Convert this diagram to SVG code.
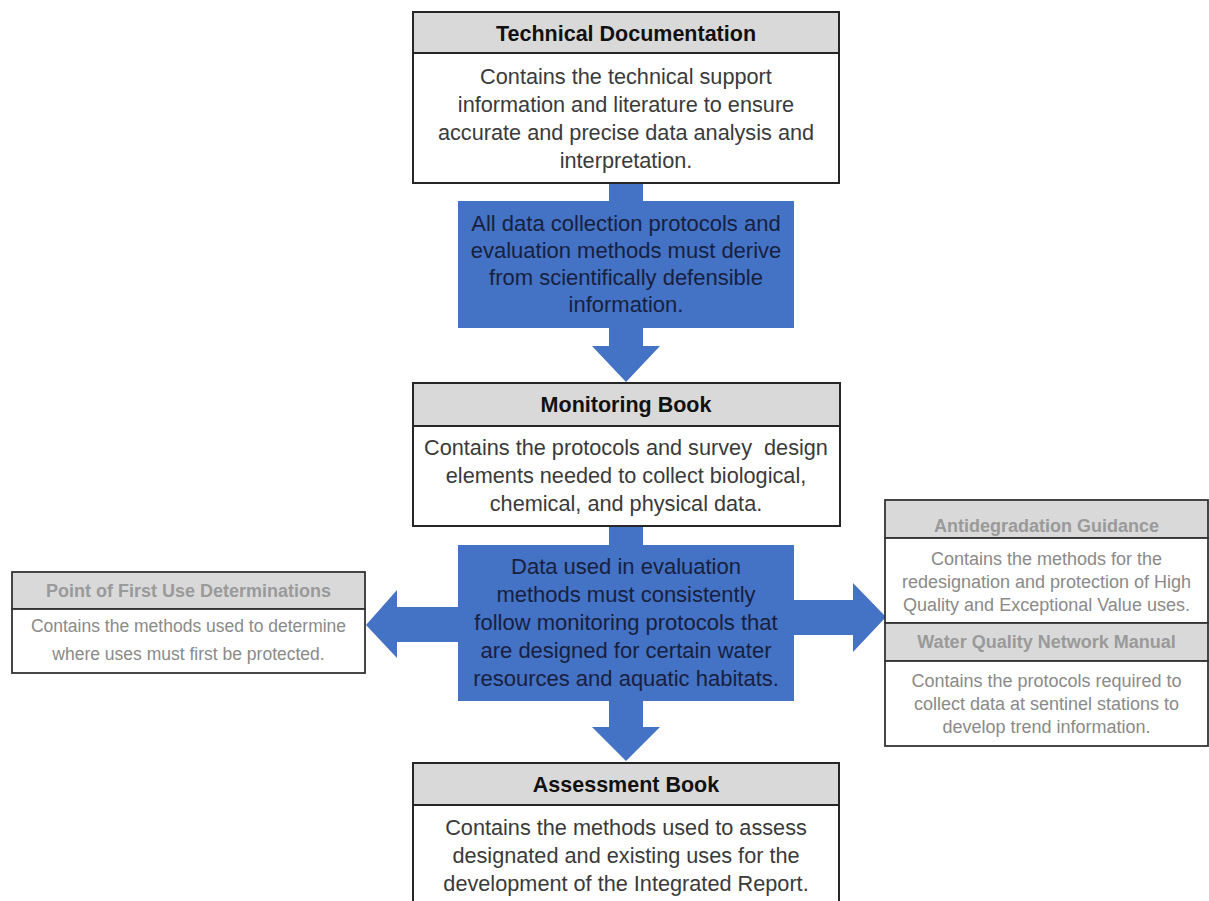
<svg xmlns="http://www.w3.org/2000/svg" width="1209" height="901" viewBox="0 0 1209 901">
<style>
.box{fill:#ffffff;stroke:#262626;stroke-width:2}
.hdr{fill:#d9d9d9;stroke:#262626;stroke-width:2}
.sbox{fill:#ffffff;stroke:#333333;stroke-width:1.8}
.shdr{fill:#d9d9d9;stroke:#333333;stroke-width:1.8}
.blue{fill:#4472c4}
.h{font-family:"Liberation Sans",Arial,sans-serif;font-weight:bold;font-size:21.5px;fill:#111111;text-anchor:middle}
.b{font-family:"Liberation Sans",Arial,sans-serif;font-size:21.7px;fill:#3a3a3a;text-anchor:middle}
.bt{font-family:"Liberation Sans",Arial,sans-serif;font-size:22px;fill:#17213f;text-anchor:middle}
.sh{font-family:"Liberation Sans",Arial,sans-serif;font-weight:bold;font-size:18px;fill:#9a9a9a;text-anchor:middle}
.sb{font-family:"Liberation Sans",Arial,sans-serif;font-size:18px;fill:#8a8a8a;text-anchor:middle}
</style>
<rect width="1209" height="901" fill="#ffffff"/>
<g id="connectors">
<polygon class="blue" points="609,183 643,183 643,346 660,346 626,382 592,346 609,346"/>
<polygon class="blue" points="609,526 643,526 643,727 660,727 626,761 592,727 609,727"/>
<polygon class="blue" points="458,607 397,607 397,590 366,625 397,658 397,642 458,642"/>
<polygon class="blue" points="794,600 853,600 853,583 886,617 853,652 853,635 794,635"/>
</g>
<g id="technical-documentation">
<rect class="hdr" x="413" y="12" width="426" height="41"/>
<rect class="box" x="413" y="53" width="426" height="130"/>
<text class="h" x="626" y="41">Technical Documentation</text>
<text class="b" x="626" y="84">Contains the technical support</text>
<text class="b" x="626" y="112">information and literature to ensure</text>
<text class="b" x="626" y="140">accurate and precise data analysis and</text>
<text class="b" x="626" y="168">interpretation.</text>
</g>
<g id="principle-1">
<rect class="blue" x="458" y="201" width="336" height="127"/>
<text class="bt" x="626" y="231">All data collection protocols and</text>
<text class="bt" x="626" y="258">evaluation methods must derive</text>
<text class="bt" x="626" y="285">from scientifically defensible</text>
<text class="bt" x="626" y="312">information.</text>
</g>
<g id="monitoring-book">
<rect class="hdr" x="413" y="383" width="427" height="43"/>
<rect class="box" x="413" y="426" width="427" height="100"/>
<text class="h" x="626" y="412">Monitoring Book</text>
<text class="b" x="626" y="455" xml:space="preserve">Contains the protocols and survey  design</text>
<text class="b" x="626" y="483">elements needed to collect biological,</text>
<text class="b" x="626" y="511">chemical, and physical data.</text>
</g>
<g id="principle-2">
<rect class="blue" x="458" y="545" width="336" height="156"/>
<text class="bt" x="626" y="574">Data used in evaluation</text>
<text class="bt" x="626" y="602">methods must consistently</text>
<text class="bt" x="626" y="630">follow monitoring protocols that</text>
<text class="bt" x="626" y="658">are designed for certain water</text>
<text class="bt" x="626" y="686">resources and aquatic habitats.</text>
</g>
<g id="point-of-first-use">
<rect class="shdr" x="12" y="572" width="353" height="37"/>
<rect class="sbox" x="12" y="609" width="353" height="64"/>
<text class="sh" x="188.5" y="597">Point of First Use Determinations</text>
<text class="sb" x="188.5" y="632" style="font-size:17.5px">Contains the methods used to determine</text>
<text class="sb" x="188.5" y="660" style="font-size:17.5px">where uses must first be protected.</text>
</g>
<g id="antidegradation-guidance">
<rect class="shdr" x="885" y="500" width="323" height="38"/>
<rect class="sbox" x="885" y="538" width="323" height="85"/>
<text class="sh" x="1046.5" y="532">Antidegradation Guidance</text>
<text class="sb" x="1046.5" y="565">Contains the methods for the</text>
<text class="sb" x="1046.5" y="588">redesignation and protection of High</text>
<text class="sb" x="1046.5" y="611">Quality and Exceptional Value uses.</text>
</g>
<g id="water-quality-network-manual">
<rect class="shdr" x="885" y="623" width="323" height="38"/>
<rect class="sbox" x="885" y="661" width="323" height="85"/>
<text class="sh" x="1046.5" y="648">Water Quality Network Manual</text>
<text class="sb" x="1046.5" y="687">Contains the protocols required to</text>
<text class="sb" x="1046.5" y="710">collect data at sentinel stations to</text>
<text class="sb" x="1046.5" y="733">develop trend information.</text>
</g>
<g id="assessment-book">
<rect class="hdr" x="413" y="763" width="426" height="42"/>
<rect class="box" x="413" y="805" width="426" height="110"/>
<text class="h" x="626" y="792">Assessment Book</text>
<text class="b" x="626" y="835">Contains the methods used to assess</text>
<text class="b" x="626" y="863">designated and existing uses for the</text>
<text class="b" x="626" y="891">development of the Integrated Report.</text>
</g>
</svg>
